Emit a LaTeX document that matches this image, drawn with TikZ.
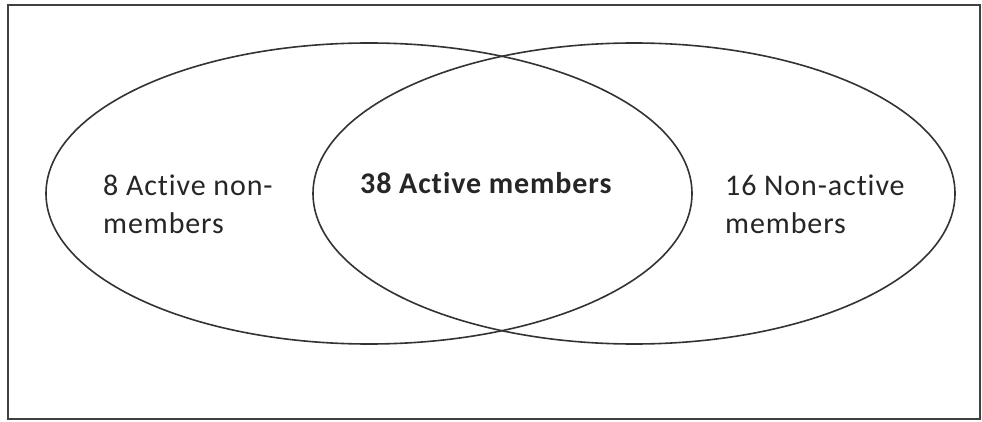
\documentclass[tikz,border=0pt]{standalone}
\usepackage{fontspec}
\setmainfont{Carlito}[LetterSpace=3, Ligatures=NoCommon]
\usepackage{xcolor}
\usetikzlibrary{shapes.geometric, positioning}

\tikzset{
  setring/.style={ellipse, draw=black!80, line width=1.6pt, minimum height=301pt, inner sep=0pt},
  settext/.style={anchor=base west, align=left, text=black!85, font=\fontsize{30}{38}\selectfont, inner sep=0pt}
}

\begin{document}
\begin{tikzpicture}[x=1pt,y=1pt]
\useasboundingbox (0,0) rectangle (982,421);
% outer frame
\draw[black!75, line width=2pt] (8,2) rectangle (980,416);
% the two sets
\node[setring, minimum width=646pt] (active) at (369,227.5) {};
\node[setring, minimum width=642pt] (members) at (634,227.5) {};
% labels (base = last line)
\node[settext] (onlyactive) at (103,188) {8 Active non-\\members};
\node[settext, font=\fontsize{30}{38}\selectfont\bfseries] (both) at (360,228) {38 Active members};
\node[settext] (onlymembers) at (725,188) {16 Non-active\\members};
\end{tikzpicture}
\end{document}
